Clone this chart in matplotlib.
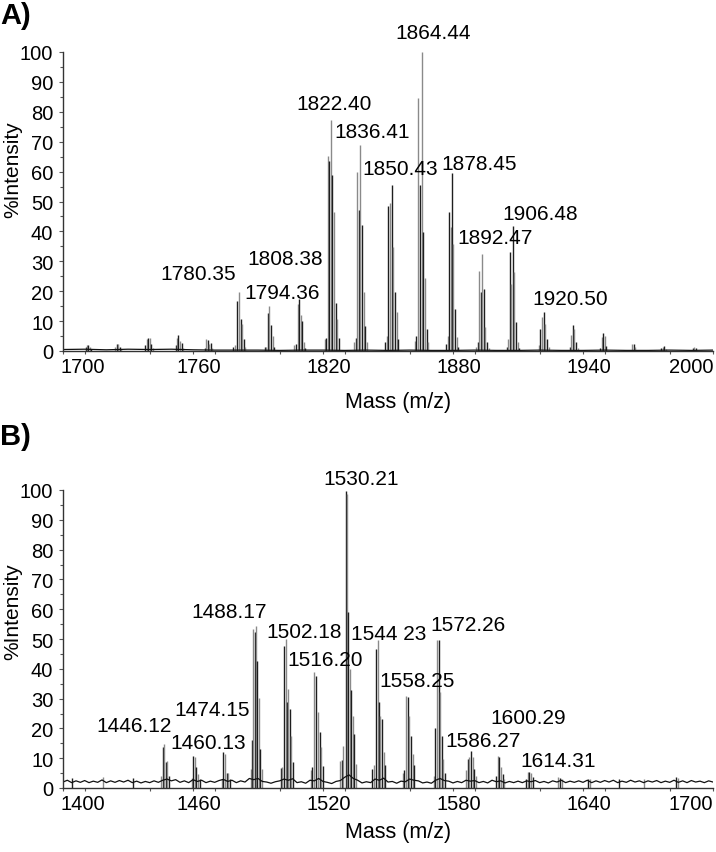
import matplotlib
matplotlib.use('Agg')
import matplotlib.pyplot as plt
from matplotlib.ticker import MultipleLocator
from matplotlib.transforms import ScaledTranslation
import numpy as np

plt.rcParams['font.family'] = ['Liberation Sans', 'DejaVu Sans']

# ---- panel A: isotope sticks (m/z, % intensity), one cluster per line
mz_a = [1710.4, 1711.0, 1711.6, 1712.3, 1713.0,
        1724.2, 1724.8, 1725.4, 1726.1, 1726.8,
        1738.0, 1738.6, 1739.3, 1740.0, 1740.7, 1741.4,
        1752.0, 1752.6, 1753.3, 1754.0, 1754.7, 1755.4,
        1765.5, 1766.0, 1766.7, 1767.4, 1768.1, 1768.8,
        1778.5, 1779.3, 1780.5, 1781.2, 1782.0, 1782.8, 1783.5, 1784.2,
        1793.0, 1793.7, 1794.5, 1795.2, 1796.0, 1796.8, 1797.5,
        1806.8, 1807.5, 1808.3, 1809.1, 1809.7, 1810.5, 1811.2, 1811.9,
        1820.8, 1821.5, 1822.2, 1822.9, 1823.7, 1824.3, 1825.1, 1825.8, 1826.5, 1827.2,
        1834.4, 1835.1, 1835.8, 1836.6, 1837.2, 1838.0, 1838.8, 1839.5, 1840.3,
        1848.7, 1849.4, 1850.2, 1850.9, 1851.7, 1852.5, 1853.2, 1854.0, 1854.7,
        1862.4, 1863.1, 1864.0, 1864.8, 1865.5, 1866.3, 1867.1, 1867.8, 1868.5,
        1876.9, 1877.6, 1878.3, 1878.9, 1879.5, 1880.1, 1880.9, 1881.7, 1882.4,
        1890.8, 1891.5, 1892.2, 1892.8, 1893.4, 1894.2, 1894.9, 1895.6, 1896.4,
        1904.9, 1905.6, 1906.3, 1906.9, 1907.5, 1908.3, 1909.1, 1909.8, 1910.5,
        1919.5, 1920.3, 1921.1, 1921.9, 1922.6, 1923.4, 1924.1,
        1933.8, 1934.5, 1935.2, 1936.0, 1936.7, 1937.5,
        1947.9, 1948.6, 1949.2, 1950.0, 1950.7,
        1962.6, 1963.4, 1964.1,
        1976.1, 1976.8, 1977.5, 1978.2,
        1990.7, 1991.4, 1992.1]
int_a = [1.2, 2.0, 2.1, 1.4, 0.8,
         1.5, 2.5, 2.4, 1.3, 0.7,
         2.0, 4.0, 4.4, 4.5, 2.2, 1.0,
         2.0, 4.5, 5.4, 3.2, 2.6, 1.0,
         1.0, 4.1, 3.8, 2.2, 2.6, 1.0,
         1.5, 2.0, 16.7, 19.6, 10.6, 9.0, 4.0, 1.2,
         1.2, 1.5, 12.8, 15.0, 8.7, 5.0, 1.5,
         2.0, 2.5, 15.6, 17.3, 12.0, 10.0, 3.0, 1.0,
         4.0, 4.5, 65.3, 63.6, 77.3, 59.0, 46.4, 16.0, 10.7, 4.5,
         3.0, 4.5, 60.0, 47.0, 68.9, 42.0, 19.6, 8.5, 3.0,
         3.0, 5.0, 48.6, 49.5, 55.6, 34.8, 19.7, 13.0, 4.0,
         3.5, 5.0, 84.6, 55.5, 99.9, 39.7, 24.3, 7.4, 3.0,
         2.5, 5.0, 46.4, 41.4, 59.4, 35.8, 14.0, 4.6, 1.5,
         1.5, 3.0, 26.9, 19.6, 32.4, 20.7, 7.9, 3.0, 1.0,
         1.5, 4.0, 33.0, 22.4, 41.9, 26.3, 9.6, 3.0, 1.0,
         2.0, 7.4, 11.3, 12.9, 9.0, 4.0, 1.5,
         1.5, 5.3, 8.7, 7.4, 3.0, 1.0,
         1.0, 4.6, 6.1, 5.0, 1.8,
         2.4, 2.5, 1.2,
         1.0, 1.5, 1.6, 0.8,
         0.9, 1.4, 1.0]
base_mz_a = list(range(1700, 2001, 10))
base_a = [0.5, 0.6, 0.4, 0.6, 0.5, 0.6, 0.4, 0.3, 0.3, 0.3, 0.2,
          0.3, 0.3, 0.2, 0.3, 0.2, 0.3, 0.2, 0.2, 0.3, 0.2,
          0.2, 0.3, 0.2, 0.2, 0.3, 0.2, 0.2, 0.3, 0.2, 0.3]
labels_a = ['1864.44', '1822.40', '1836.41', '1850.43', '1878.45', '1892.47',
            '1906.48', '1920.50', '1780.35', '1808.38', '1794.36']
lab_x_a = [1870.6, 1825.0, 1842.7, 1855.5, 1891.9, 1899.5, 1920.2, 1933.9, 1762.5, 1802.5, 1801.2]
lab_y_a = [106.5, 82.9, 73.4, 61.0, 62.8, 38.0, 46.0, 17.4, 26.0, 30.8, 19.6]

# ---- panel B
mz_b = [1404.0, 1418.6, 1432.3,
        1445.2, 1446.0, 1446.8, 1447.4, 1448.1, 1448.9,
        1459.4, 1460.1, 1460.9, 1461.6, 1462.4, 1463.1,
        1473.2, 1474.0, 1474.8, 1475.6, 1476.3, 1477.0,
        1486.8, 1487.4, 1487.8, 1488.5, 1489.1, 1489.7, 1490.3, 1491.1, 1491.8,
        1500.6, 1501.3, 1502.0, 1502.8, 1503.4, 1504.0, 1504.6, 1505.2, 1506.0,
        1514.3, 1515.0, 1516.0, 1516.8, 1517.6, 1518.4, 1519.1, 1519.9,
        1528.0, 1528.7, 1529.4, 1530.5, 1531.0, 1531.7, 1532.4, 1533.1, 1533.8, 1534.5, 1535.2,
        1542.8, 1543.5, 1544.3, 1545.2, 1545.8, 1546.5, 1547.2, 1548.0, 1548.8,
        1557.0, 1557.6, 1558.3, 1559.1, 1559.8, 1560.6, 1561.4, 1562.1,
        1571.0, 1571.7, 1572.5, 1573.4, 1574.1, 1574.9, 1575.6, 1576.3,
        1585.9, 1586.8, 1587.6, 1588.3, 1589.1, 1589.8, 1590.5,
        1599.9, 1600.6, 1601.4, 1602.2, 1602.9, 1603.6,
        1613.8, 1614.5, 1615.3, 1616.1, 1616.8,
        1628.6, 1629.4, 1630.1, 1642.4, 1643.1, 1656.5, 1668.0, 1683.0, 1683.7]
int_b = [3.3, 3.6, 3.2,
         4.0, 13.7, 14.6, 8.7, 9.0, 4.0,
         3.5, 10.8, 10.3, 7.0, 4.8, 3.0,
         3.0, 12.0, 11.4, 5.2, 5.0, 3.0,
         6.5, 16.0, 53.4, 52.4, 54.3, 42.5, 30.2, 13.0, 6.5,
         6.6, 7.0, 47.8, 50.0, 28.7, 33.2, 26.5, 17.5, 8.6,
         6.0, 7.0, 38.8, 37.7, 25.4, 18.7, 13.6, 7.4,
         9.0, 9.5, 14.0, 99.8, 98.5, 59.0, 40.0, 33.0, 24.0, 18.0, 8.0,
         6.4, 7.6, 46.6, 49.5, 28.8, 24.3, 23.1, 12.0, 7.6,
         5.0, 6.0, 31.0, 30.4, 24.3, 17.6, 11.4, 7.6,
         4.0, 20.0, 49.7, 49.7, 32.1, 17.6, 9.8, 5.0,
         6.0, 9.7, 10.3, 12.3, 10.3, 6.4, 4.0,
         4.0, 10.8, 10.3, 6.9, 4.7, 3.0,
         3.0, 5.3, 5.4, 4.9, 3.6,
         3.6, 3.5, 3.0, 3.0, 2.9, 3.0, 2.9, 3.6, 3.2]
base_mz_b = list(range(1400, 1701, 2))
base_b = [2.0, 2.6, 1.8, 2.4, 1.9, 2.5, 1.8, 2.3, 1.9, 2.7, 1.8, 2.4, 1.9, 2.5, 2.0,
          2.6, 1.8, 2.3, 1.7, 2.2, 1.8, 2.4, 1.9, 2.6, 3.0, 2.4, 2.8, 1.9, 2.4, 1.8,
          2.8, 2.2, 2.6, 1.8, 2.3, 1.9, 2.5, 2.9, 2.2, 2.6, 1.8, 2.4, 2.0, 3.2, 2.8,
          3.2, 2.2, 2.0, 1.6, 2.1, 2.4, 3.0, 2.6, 3.1, 1.8, 2.1, 1.6, 2.6, 2.4, 3.2,
          2.2, 1.9, 1.5, 2.2, 2.5, 3.6, 4.4, 3.2, 2.6, 1.7, 2.1, 1.8, 3.0, 2.6, 3.3,
          2.0, 2.2, 1.6, 2.3, 2.1, 3.0, 2.6, 2.4, 1.7, 2.0, 1.6, 2.6, 3.2, 2.5, 2.3,
          1.7, 2.2, 1.8, 2.6, 2.3, 2.5, 1.8, 2.2, 1.7, 2.6, 2.1, 2.4, 1.7, 2.2, 1.8,
          2.3, 1.8, 2.4, 2.1, 2.5, 1.8, 2.2, 1.7, 2.4, 2.0, 2.6, 1.8, 2.3, 1.9, 2.4,
          1.9, 2.6, 1.8, 2.4, 1.9, 2.5, 2.0, 2.6, 1.8, 2.3, 1.9, 2.6, 2.0, 2.4, 1.8,
          2.4, 2.0, 2.5, 1.8, 2.3, 1.9, 2.6, 1.9, 2.4, 1.8, 2.5, 2.0, 2.3, 1.8, 2.4,
          2.0]
labels_b = ['1530.21', '1488.17', '1502.18', '1516.20', '1544 23', '1572.26',
            '1558.25', '1600.29', '1586.27', '1614.31', '1446.12', '1474.15', '1460.13']
lab_x_b = [1537.4, 1476.5, 1511.1, 1520.9, 1550.5, 1586.9, 1563.6, 1614.8, 1593.7, 1628.5,
           1432.9, 1468.6, 1467.1]
lab_y_b = [103.7, 59.2, 52.5, 43.0, 51.8, 54.7, 36.0, 23.7, 15.9, 9.2, 20.9, 26.3, 15.3]

xticks_a = [1700, 1760, 1820, 1880, 1940, 2000]
xticks_b = [1400, 1460, 1520, 1580, 1640, 1700]

fig = plt.figure(figsize=(7.16, 8.53), dpi=100)
ax_a = fig.add_axes([63/716, 501/853, 650/716, 299/853])
ax_b = fig.add_axes([63/716, 64/853, 650/716, 298/853])


def draw_panel(ax, mz, inten, bmz, base, labs, lx, ly, xt, ylab_y, xlab_y):
    cols = ['#1e1e1e' if i % 2 == 0 else '#8a8a8a' for i in range(len(mz))]
    ax.vlines(mz, 0, inten, colors=cols, lw=1.0)
    ax.plot(bmz, base, color='#111111', lw=0.9)
    for s, x, y in zip(labs, lx, ly):
        ax.text(x, y, s, ha='center', va='center', fontsize=15, clip_on=False)
    ax.set_xlim(xt[0], xt[-1])
    ax.set_ylim(0, 100)
    ax.set_xticks(xt)
    ax.xaxis.set_minor_locator(MultipleLocator(30))
    ax.yaxis.set_major_locator(MultipleLocator(10))
    ax.yaxis.set_minor_locator(MultipleLocator(5))
    for sp in ['top', 'right']:
        ax.spines[sp].set_visible(False)
    for sp in ['left', 'bottom']:
        ax.spines[sp].set_color('#333333')
        ax.spines[sp].set_linewidth(1.0)
    ax.tick_params(axis='x', which='both', length=2.5, width=0.8, color='#555555',
                   labelsize=14.5, pad=2)
    ax.tick_params(axis='y', which='major', length=3, width=0.8, color='#555555',
                   labelsize=14.5, pad=4)
    ax.tick_params(axis='y', which='minor', length=2.5, width=0.8, color='#555555')
    ax.set_ylabel('%Intensity', fontsize=15)
    ax.yaxis.set_label_coords(-0.062, ylab_y)
    ax.set_xlabel('Mass (m/z)', fontsize=15.5)
    ax.xaxis.set_label_coords(0.515, xlab_y)
    labels = ax.get_xticklabels()
    labels[0].set_ha('left')
    labels[0].set_transform(labels[0].get_transform() + ScaledTranslation(-0.03, 0, fig.dpi_scale_trans))
    labels[-1].set_ha('right')
    for lab in labels[1:-1]:
        lab.set_transform(lab.get_transform() + ScaledTranslation(0.06, 0, fig.dpi_scale_trans))


draw_panel(ax_a, mz_a, int_a, base_mz_a, base_a, labels_a, lab_x_a, lab_y_a, xticks_a, 0.609, -0.135)
draw_panel(ax_b, mz_b, int_b, base_mz_b, base_b, labels_b, lab_x_b, lab_y_b, xticks_b, 0.594, -0.11)

fig.text(0.0, 1 - 2/853, 'A)', fontsize=21, fontweight='bold', ha='left', va='top')
fig.text(0.0, 1 - 423/853, 'B)', fontsize=21, fontweight='bold', ha='left', va='top')

fig.savefig('out.png', dpi=100)
